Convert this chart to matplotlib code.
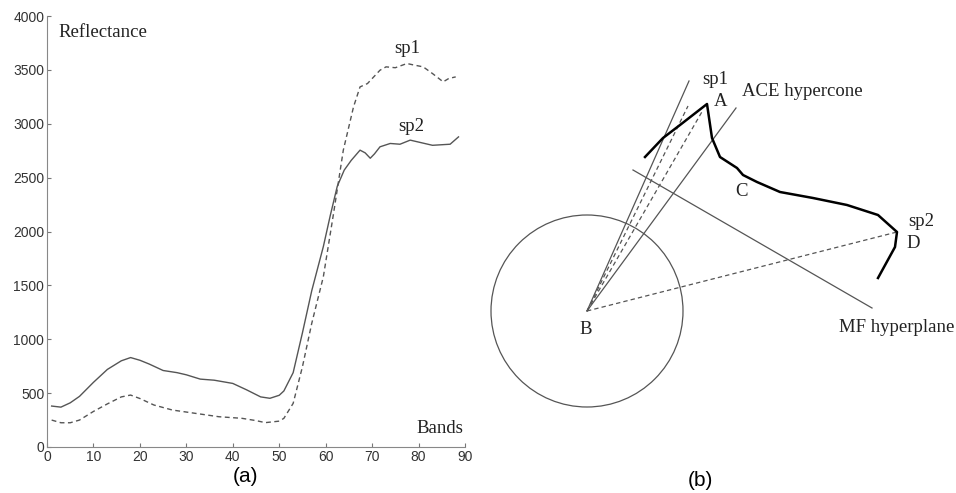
import matplotlib.pyplot as plt
from matplotlib.patches import Circle

# (a) spectra
bands_sp2 = [1, 3, 5, 7, 10, 13, 16, 18, 20, 22, 25, 28, 30, 33, 36, 40, 43, 46, 48, 50,
             51, 53, 55, 57, 59.5, 61, 62.5, 64, 65.5, 67.4, 68.5, 69.6, 70.5, 71.7, 73.9,
             76, 78.2, 80, 83, 86.8, 88.6]
sp2 = [380, 370, 410, 470, 600, 720, 800, 830, 805, 770, 710, 690, 670, 630, 620, 590, 530,
       465, 452, 480, 520, 690, 1060, 1450, 1860, 2150, 2420, 2570, 2660, 2755, 2730, 2680,
       2720, 2786, 2817, 2810, 2848, 2830, 2800, 2810, 2878]

bands_sp1 = [1, 3, 5, 7, 10, 13, 16, 18, 20, 23, 27, 32, 37, 42, 45, 47, 50, 51, 53, 55, 57,
             59.5, 61.7, 63.8, 66, 67.4, 69, 71.7, 73, 75, 77.5, 79, 81, 83, 85.3, 86.5, 88]
sp1 = [250, 225, 225, 250, 330, 400, 465, 482, 450, 390, 343, 312, 281, 266, 245, 226, 240,
       266, 405, 745, 1147, 1580, 2168, 2755, 3157, 3342, 3373, 3497, 3528, 3520, 3559, 3545,
       3528, 3466, 3389, 3420, 3435]

xticks = [0, 10, 20, 30, 40, 50, 60, 70, 80, 90]
yticks = [0, 500, 1000, 1500, 2000, 2500, 3000, 3500, 4000]

# (b) diagram points (figure pixel coordinates)
B = (587, 311)
radius = 96
curve_x = [645, 663, 680, 707, 712, 720, 737, 743, 757, 780, 813, 847, 878, 897, 895, 878]
curve_y = [157, 138, 125, 104, 138, 157, 168, 175, 182, 192, 198, 205, 215, 232, 247, 278]
cone_ends = [(689, 81), (736, 108)]
dash_ends = [(703, 110), (688, 106), (897, 232)]
mf_line = [(633, 170), (872, 308)]
labels_b = [("sp1", 715, 79), ("A", 721, 102), ("ACE hypercone", 742, 92), ("C", 741, 191),
            ("sp2", 921, 221), ("D", 913, 244), ("B", 586, 330), ("MF hyperplane", 839, 328)]

fig = plt.figure(figsize=(9.56, 4.93), dpi=100)
grey = "#555555"
serif = "Liberation Serif"

# ---- panel (a)
ax = fig.add_axes([47 / 956, 1 - 447 / 493, 418 / 956, 431 / 493])
ax.plot(bands_sp2, sp2, color=grey, lw=1.0)
ax.plot(bands_sp1, sp1, color=grey, lw=1.0, dashes=(3.5, 2.5))
ax.set_xlim(0, 90)
ax.set_ylim(0, 4000)
ax.set_xticks(xticks)
ax.set_yticks(yticks)
ax.tick_params(direction="in", length=3, colors="#777777", labelcolor="#333333",
               labelsize=10, pad=2)
for lab in ax.get_xticklabels() + ax.get_yticklabels():
    lab.set_family("Liberation Sans")
for s in ["top", "right"]:
    ax.spines[s].set_visible(False)
for s in ["left", "bottom"]:
    ax.spines[s].set_color("#888888")
ax.text(2.4, 3850, "Reflectance", family=serif, fontsize=13.5, va="center", color="#222222")
ax.text(77.5, 3700, "sp1", family=serif, fontsize=13.5, ha="center", va="center", color="#222222")
ax.text(78.5, 2975, "sp2", family=serif, fontsize=13.5, ha="center", va="center", color="#222222")
ax.text(84.5, 175, "Bands", family=serif, fontsize=13.5, ha="center", va="center", color="#222222")
fig.text(246 / 956, 1 - 476 / 493, "(a)", fontsize=15, family="Liberation Sans",
         ha="center", va="center")

# ---- panel (b)
bx = fig.add_axes([480 / 956, 0, 476 / 956, 1])
bx.set_xlim(480, 956)
bx.set_ylim(493, 0)
bx.axis("off")
bx.add_patch(Circle(B, radius, fill=False, color=grey, lw=0.9))
for (x, y) in cone_ends:
    bx.plot([B[0], x], [B[1], y], color=grey, lw=0.9)
for (x, y) in dash_ends:
    bx.plot([B[0], x], [B[1], y], color=grey, lw=0.9, dashes=(3.5, 2.5))
bx.plot([p[0] for p in mf_line], [p[1] for p in mf_line], color=grey, lw=0.9)
bx.plot(curve_x, curve_y, color="black", lw=1.8)
for txt, x, y in labels_b:
    bx.text(x, y, txt, family=serif, fontsize=13.5, va="center",
            ha="center" if len(txt) < 4 else "left", color="#222222")
fig.text(700 / 956, 1 - 480 / 493, "(b)", fontsize=15, family="Liberation Sans",
         ha="center", va="center")

fig.savefig("out.png", dpi=100)
